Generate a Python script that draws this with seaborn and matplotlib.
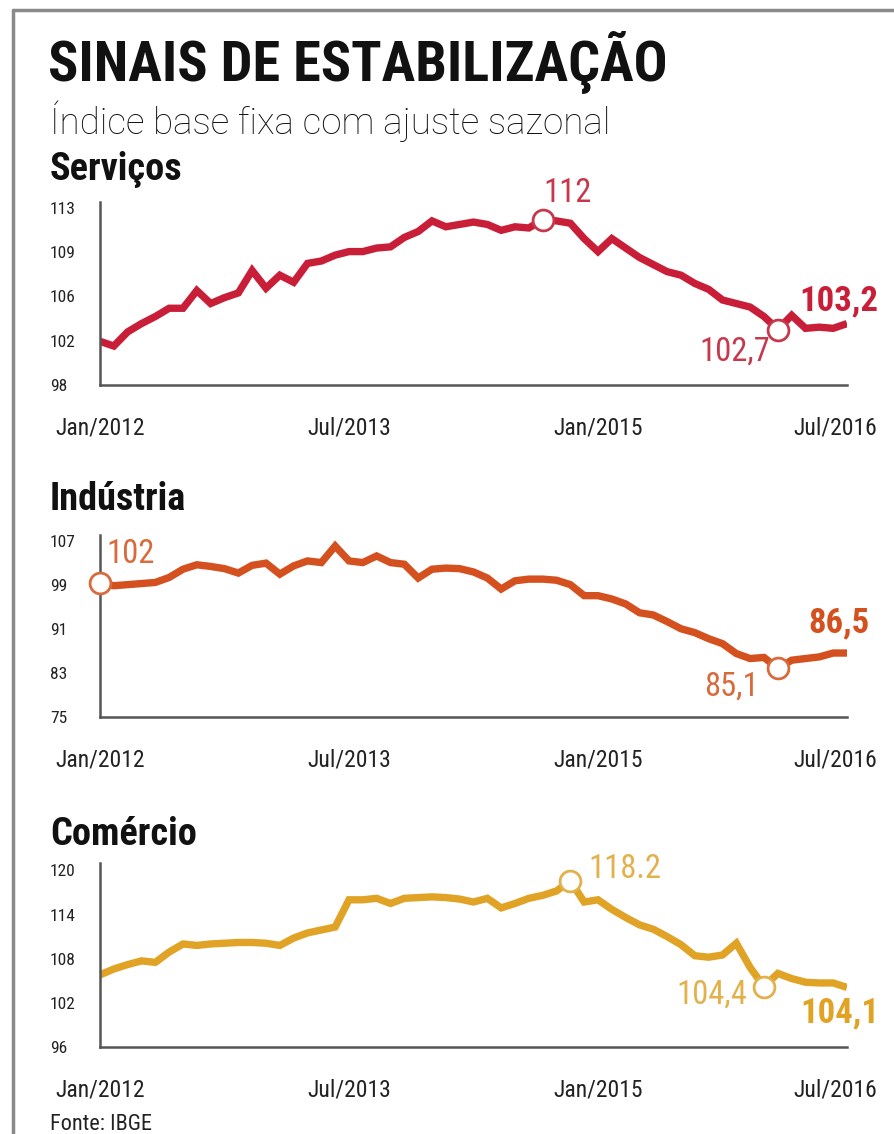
import matplotlib
matplotlib.use("Agg")
import matplotlib.pyplot as plt
from matplotlib import font_manager
from matplotlib.lines import Line2D
from matplotlib.transforms import ScaledTranslation
import seaborn as sns
import pandas as pd

# ---------------- data ----------------
month_labels = pd.date_range("2012-01-01", "2016-07-01", freq="MS").strftime("%b/%Y").tolist()

servicos = [101.7, 101.3, 102.5, 103.2, 103.8, 104.5, 104.5, 106.0, 104.9, 105.4,
            105.8, 107.7, 106.2, 107.3, 106.7, 108.3, 108.5, 109.0, 109.3, 109.3,
            109.6, 109.7, 110.5, 111.0, 111.9, 111.4, 111.6, 111.8, 111.6, 111.1,
            111.4, 111.3, 112.0, 111.9, 111.7, 110.4, 109.3, 110.4, 109.6, 108.8,
            108.2, 107.6, 107.3, 106.6, 106.1, 105.2, 104.9, 104.6, 103.8, 102.7,
            103.9, 102.8, 102.9, 102.8, 103.2]

industria = [99.3, 98.8, 99.0, 99.2, 99.4, 100.3, 101.8, 102.6, 102.3, 101.9,
             101.1, 102.5, 102.9, 100.9, 102.4, 103.3, 103.0, 106.0, 103.3, 103.0,
             104.2, 103.0, 102.7, 100.2, 101.8, 102.0, 101.9, 101.3, 100.2, 98.2,
             99.7, 100.0, 100.0, 99.8, 99.0, 97.0, 97.0, 96.4, 95.5, 93.9,
             93.5, 92.3, 91.0, 90.3, 89.2, 88.3, 86.5, 85.6, 85.8, 83.8,
             85.3, 85.6, 85.9, 86.6, 86.6]

comercio = [105.8, 106.6, 107.2, 107.7, 107.5, 108.9, 110.0, 109.8, 110.0, 110.1,
            110.2, 110.2, 110.1, 109.8, 110.8, 111.5, 111.9, 112.3, 116.0, 116.0,
            116.2, 115.5, 116.2, 116.3, 116.4, 116.3, 116.1, 115.7, 116.2, 114.9,
            115.5, 116.2, 116.6, 117.2, 118.6, 115.7, 116.0, 114.7, 113.6, 112.6,
            112.0, 111.0, 109.9, 108.4, 108.2, 108.5, 110.1, 106.8, 104.2, 106.0,
            105.3, 104.8, 104.7, 104.7, 104.1]

x_tick_pos = [0, 18, 36, 54]
x_tick_labels = ["Jan/2012", "Jul/2013", "Jan/2015", "Jul/2016"]

serv_yticks = [98, 101.75, 105.5, 109.25, 113]
serv_ylabels = ["98", "102", "106", "109", "113"]
ind_yticks = [75, 83, 91, 99, 107]
ind_ylabels = ["75", "83", "91", "99", "107"]
com_yticks = [96, 102, 108, 114, 120]
com_ylabels = ["96", "102", "108", "114", "120"]

# annotations: (month index, text, kind)
serv_notes = [(32, "112", "circle"), (49, "102,7", "circle"), (54, "103,2", "end")]
ind_notes = [(0, "102", "circle"), (49, "85,1", "circle"), (54, "86,5", "end")]
com_notes = [(34, "118.2", "circle"), (48, "104,4", "circle"), (54, "104,1", "end")]

# ---------------- style ----------------
sns.set_theme(style="white")
avail = {f.name for f in font_manager.fontManager.ttflist}
narrow = "Roboto Condensed" if "Roboto Condensed" in avail else "Liberation Sans"
plt.rcParams["font.family"] = [narrow, "DejaVu Sans"]

RED = "#c91e38"
ORANGE = "#d4501e"
GOLD = "#e1a326"
RED_L = "#c8384c"
ORANGE_L = "#d86a3c"
GOLD_L = "#e2b14c"
AXIS = "#555555"

W, H = 895, 1134
fig = plt.figure(figsize=(W / 100, H / 100), dpi=100)
fig.patch.set_facecolor("white")

def fx(px):
    return px / W

def fy(py):
    return 1 - py / H

# frame lines
fig.add_artist(Line2D([fx(13), fx(895)], [fy(10), fy(10)], color="#8a8a8a", lw=2.5))
fig.add_artist(Line2D([fx(13), fx(13)], [fy(10), fy(1134)], color="#8a8a8a", lw=2.5))

fig.text(fx(48), fy(81), "SINAIS DE ESTABILIZAÇÃO", fontsize=40.5, fontweight="bold",
         color="#111111", ha="left", va="baseline")
fig.text(fx(50), fy(134), "Índice base fixa com ajuste sazonal", fontsize=26.5,
         fontweight="light", family=["Roboto", "DejaVu Sans"],
         color="#111111", ha="left", va="baseline")

panels = [
    ("Serviços", servicos, RED, RED_L, serv_yticks, serv_ylabels, (98, 113.5), 385, 202, 180, serv_notes),
    ("Indústria", industria, ORANGE, ORANGE_L, ind_yticks, ind_ylabels, (75, 108), 717, 535, 510, ind_notes),
    ("Comércio", comercio, GOLD, GOLD_L, com_yticks, com_ylabels, (96, 121), 1047, 863, 845, com_notes),
]

note_offsets = {
    ("Serviços", 32): (25, 27, "center"),
    ("Serviços", 49): (-8, -22, "right"),
    ("Serviços", 54): (-8, 23, "center"),
    ("Indústria", 0): (6, 29, "left"),
    ("Indústria", 49): (-19, -18, "right"),
    ("Indústria", 54): (-8, 30, "center"),
    ("Comércio", 34): (18, 12, "left"),
    ("Comércio", 48): (-17, -8, "right"),
    ("Comércio", 54): (-7, -26, "center"),
}

for name, values, color, lcolor, yt, yl, ylim, bottom_px, top_px, title_px, notes in panels:
    ax = fig.add_axes([fx(100), fy(bottom_px), fx(847) - fx(100), (bottom_px - top_px) / H])
    df = pd.DataFrame({"mes": range(len(values)), "valor": values, "rotulo": month_labels})
    sns.lineplot(data=df, x="mes", y="valor", ax=ax, color=color, lw=5.3,
                 solid_joinstyle="miter", solid_capstyle="butt")
    ax.set_xlim(0, len(values) - 1)
    ax.set_ylim(*ylim)
    ax.set_xlabel("")
    ax.set_ylabel("")
    ax.set_facecolor("none")
    for s in ["top", "right"]:
        ax.spines[s].set_visible(False)
    for s in ["left", "bottom"]:
        ax.spines[s].set_color(AXIS)
        ax.spines[s].set_linewidth(1.8)
    ax.set_yticks(yt)
    ax.set_yticklabels(yl, fontsize=12.5, color="#222222")
    ax.set_xticks(x_tick_pos)
    ax.set_xticklabels(x_tick_labels, fontsize=17, color="#222222")
    ax.tick_params(axis="both", length=0)
    ax.tick_params(axis="y", pad=0)
    ax.tick_params(axis="x", pad=23)
    last = ax.xaxis.get_majorticklabels()[-1]
    last.set_transform(last.get_transform() + ScaledTranslation(-0.12, 0, fig.dpi_scale_trans))
    for lab in ax.get_yticklabels():
        lab.set_horizontalalignment("left")
        lab.set_transform(lab.get_transform() + ScaledTranslation(-0.50, 0, fig.dpi_scale_trans))

    fig.text(fx(50), fy(title_px), name, fontsize=27.5, fontweight="bold",
             color="#111111", ha="left", va="baseline")

    for m, txt, kind in notes:
        v = values[m]
        dx, dy, ha = note_offsets[(name, m)]
        if kind == "circle":
            ax.plot([m], [v], marker="o", ms=15, mfc="white", mec=lcolor, mew=2.0,
                    zorder=5, clip_on=False)
            ax.annotate(txt, (m, v), xytext=(dx, dy), textcoords="offset pixels",
                        ha=ha, va="center", fontsize=23.5, color=lcolor)
        else:
            ax.annotate(txt, (m, v), xytext=(dx, dy), textcoords="offset pixels",
                        ha=ha, va="center", fontsize=25, fontweight="bold", color=color)

fig.text(fx(50), fy(1130), "Fonte: IBGE", fontsize=16, color="#222222",
         ha="left", va="baseline")

fig.savefig("out.png", dpi=100)
